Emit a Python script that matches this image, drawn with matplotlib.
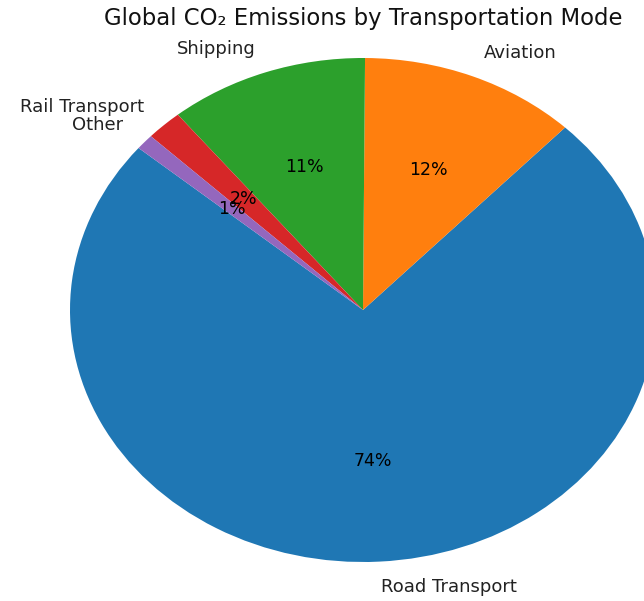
import matplotlib
matplotlib.use("Agg")
import matplotlib.pyplot as plt

labels = ["Road Transport", "Aviation", "Shipping", "Rail Transport", "Other"]
shares = [74, 12, 11, 2, 1]
colors = ["#1f77b4", "#ff7f0e", "#2ca02c", "#d62728", "#9467bd"]

W, H = 644, 601
fig = plt.figure(figsize=(W / 100, H / 100), dpi=100)

# pie centre and radii in pixels (the pie is drawn stretched)
cx, cy = 363, H - 310
rx, ry = 293, 252
lim = 1.25
ax = fig.add_axes([(cx - rx * lim) / W, (cy - ry * lim) / H,
                   2 * rx * lim / W, 2 * ry * lim / H])

wedges, texts, autotexts = ax.pie(shares, labels=labels, colors=colors,
                                  autopct="%1.0f%%", startangle=140,
                                  textprops={"fontsize": 13, "color": "#222222"})
for t in autotexts:
    t.set_fontsize(12.5)
    t.set_color("black")
ax.set_aspect("auto")
ax.set_xlim(-lim, lim)
ax.set_ylim(-lim, lim)

fig.text(cx / W, 1 - 18 / H, "Global CO\u2082 Emissions by Transportation Mode",
         ha="center", va="center", fontsize=16.4, color="#111111")

fig.savefig("out.png", dpi=100)
